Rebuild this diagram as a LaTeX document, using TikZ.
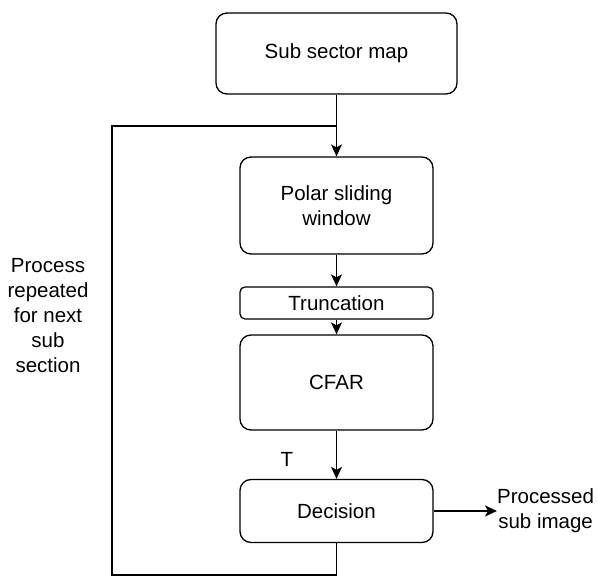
\documentclass[tikz,border=0pt]{standalone}
\usepackage{fontspec}
\setmainfont{Liberation Sans}
\usetikzlibrary{arrows.meta}
\begin{document}
\begin{tikzpicture}[x=1pt,y=-1pt,
  every node/.style={font=\fontsize{20.5}{25}\selectfont, text=black},
  stepbox/.style={draw, line width=1.3pt, rounded corners=11pt, align=center,
    inner sep=0pt, minimum width=193pt},
  flow/.style={line width=1.3pt, -{Stealth[length=12pt,width=11pt,inset=3pt]}},
  plain/.style={line width=1.3pt}]
\useasboundingbox (0,0) rectangle (598,577);
% process boxes
\node[stepbox, minimum width=241pt, minimum height=81pt] (map) at (336.5,53.5) {Sub sector map};
\node[stepbox, minimum height=97pt] (polar) at (336.5,205.5) {Polar sliding\\window};
\node[stepbox, rounded corners=5pt, minimum height=32pt] (trunc) at (336.5,303) {Truncation};
\node[stepbox, minimum height=95pt] (cfar) at (336.5,382.5) {CFAR};
\node[stepbox, minimum height=63pt] (dec) at (336.5,511) {Decision};
% labels
\node (t) at (287,459) {T};
\node[align=center] (loopnote) at (48,316) {Process\\repeated\\for next\\sub\\section};
\node[align=center, anchor=west, inner sep=0pt] (out) at (497,511) {Processed\\sub image};
% main flow
\coordinate (join) at (336.5,126);
\draw[flow] (map.south) -- (polar.north);
\draw[flow] (polar.south) -- (trunc.north);
\draw[flow] (trunc.south) -- (cfar.north);
\draw[flow] (cfar.south) -- (dec.north);
\draw[flow] (dec.east) -- (out.west);
% feedback loop to the next sub section
\draw[plain] (dec.south) -- (336.5,575) -- (112,575) -- (112,126) -- (join);
\end{tikzpicture}
\end{document}
